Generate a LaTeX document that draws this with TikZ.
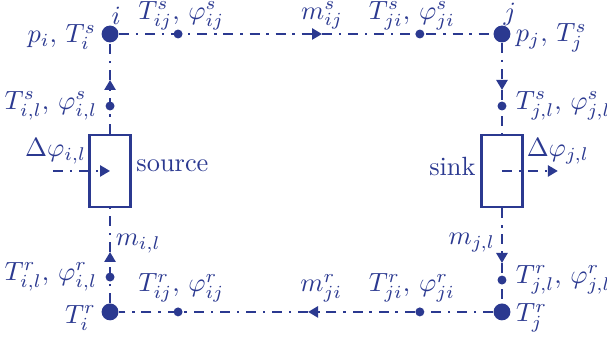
\documentclass[tikz,border=0pt]{standalone}
\usepackage{amsmath,amssymb}
\usepackage{tikz}
\usetikzlibrary{positioning,calc}
\usetikzlibrary{arrows.meta}
\definecolor{NetBlue}{RGB}{43,57,144}
\tikzset{
  hub/.style={circle,fill=NetBlue,inner sep=0pt,minimum size=6.4pt},
  probe/.style={circle,fill=NetBlue,inner sep=0pt,minimum size=3.4pt},
  flow/.style={draw=NetBlue,line width=0.9pt,dash pattern=on 3.8pt off 2.6pt on 0.9pt off 2.6pt},
  tip/.style={-{Triangle[length=3.8pt,width=4.2pt]}},
  unit/.style={draw=NetBlue,line width=1pt,minimum width=0.55cm,minimum height=0.96cm,inner sep=0pt},
  lbl/.style={text=NetBlue,inner sep=1.5pt},
}

\begin{document}
\begin{tikzpicture}
\useasboundingbox (-1.467,-4.079) rectangle (6.625,0.453);
% nodes of the supply and return lines
\node[hub] (i) at (0,0) {};
\node[hub] (j) at (5.225,0) {};
\node[hub] (ir) at (0,-3.705) {};
\node[hub] (jr) at (5.225,-3.705) {};
\node[probe] (sij) at (0.907,0) {};
\node[probe] (sji) at (4.13,0) {};
\node[probe] (rij) at (0.907,-3.705) {};
\node[probe] (rji) at (4.13,-3.705) {};
\node[probe] (sil) at (0,-0.96) {};
\node[probe] (sjl) at (5.225,-0.96) {};
\node[probe] (ril) at (0,-3.24) {};
\node[probe] (rjl) at (5.225,-3.28) {};
\node[unit] (src) at (0,-1.826) {};
\node[unit] (snk) at (5.225,-1.826) {};
% arrow positions
\coordinate (aS) at (2.826,0);
\coordinate (aR) at (2.64,-3.705);
\coordinate (aIs) at (0,-0.613);
\coordinate (aIr) at (0,-2.906);
\coordinate (aJs) at (5.225,-0.746);
\coordinate (aJr) at (5.225,-3.053);
\coordinate (dIn) at (-0.76,-1.826);
\coordinate (dOut) at (5.97,-1.826);
% pipes
\draw[flow,tip] (i) -- (aS);
\draw[flow] (aS) -- (j);
\draw[flow,tip] (jr) -- (aR);
\draw[flow] (aR) -- (ir);
\draw[flow,tip] (src) -- (aIs);
\draw[flow] (aIs) -- (i);
\draw[flow,tip] (ir) -- (aIr);
\draw[flow] (aIr) -- (src);
\draw[flow,tip] (j) -- (aJs);
\draw[flow] (aJs) -- (snk);
\draw[flow,tip] (snk) -- (aJr);
\draw[flow] (aJr) -- (jr);
\draw[flow,tip] (dIn) -- (src.center);
\draw[flow,tip] (snk.center) -- (dOut);
% labels
\node[lbl,above=-1.6pt of i,xshift=2.3pt] {$i$};
\node[lbl,above=-1.8pt of j,xshift=3pt] {$j$};
\node[lbl,left=0.2pt of i,yshift=-1.2pt] {$p_i,\,T_i^s$};
\node[lbl,right=0.2pt of j,yshift=-1.5pt] {$p_j,\,T_j^s$};
\node[lbl,above=-2pt of sij,xshift=1.2pt] {$T_{ij}^s,\,\varphi_{ij}^s$};
\node[lbl,above=-2pt of sji,xshift=-3pt] {$T_{ji}^s,\,\varphi_{ji}^s$};
\node[lbl,above=0pt of aS] {$m_{ij}^s$};
\node[lbl,left=1.3pt of sil] {$T_{i,l}^s,\,\varphi_{i,l}^s$};
\node[lbl,right=1.7pt of sjl] {$T_{j,l}^s,\,\varphi_{j,l}^s$};
\node[lbl,right=0pt of src,yshift=1.8pt] {source};
\node[lbl,left=0pt of snk,yshift=1.8pt] {sink};
\node[lbl,above=0.8pt of dIn,xshift=1pt] {$\Delta\varphi_{i,l}$};
\node[lbl,above=1pt of dOut] {$\Delta\varphi_{j,l}$};
\node[lbl,above right=-2pt and 0.5pt of aIr] {$m_{i,l}$};
\node[lbl,above left=2.3pt and 1pt of aJr] {$m_{j,l}$};
\node[lbl,left=1.3pt of ril] {$T_{i,l}^r,\,\varphi_{i,l}^r$};
\node[lbl,right=1.7pt of rjl] {$T_{j,l}^r,\,\varphi_{j,l}^r$};
\node[lbl,above=0pt of rij,xshift=1.2pt] {$T_{ij}^r,\,\varphi_{ij}^r$};
\node[lbl,above=0pt of rji,xshift=-3pt] {$T_{ji}^r,\,\varphi_{ji}^r$};
\node[lbl,above=2pt of aR,xshift=5pt] {$m_{ji}^r$};
\node[lbl,left=0.3pt of ir,yshift=-2.3pt] {$T_i^r$};
\node[lbl,right=0.3pt of jr,yshift=-2.3pt] {$T_j^r$};
\end{tikzpicture}
\end{document}
